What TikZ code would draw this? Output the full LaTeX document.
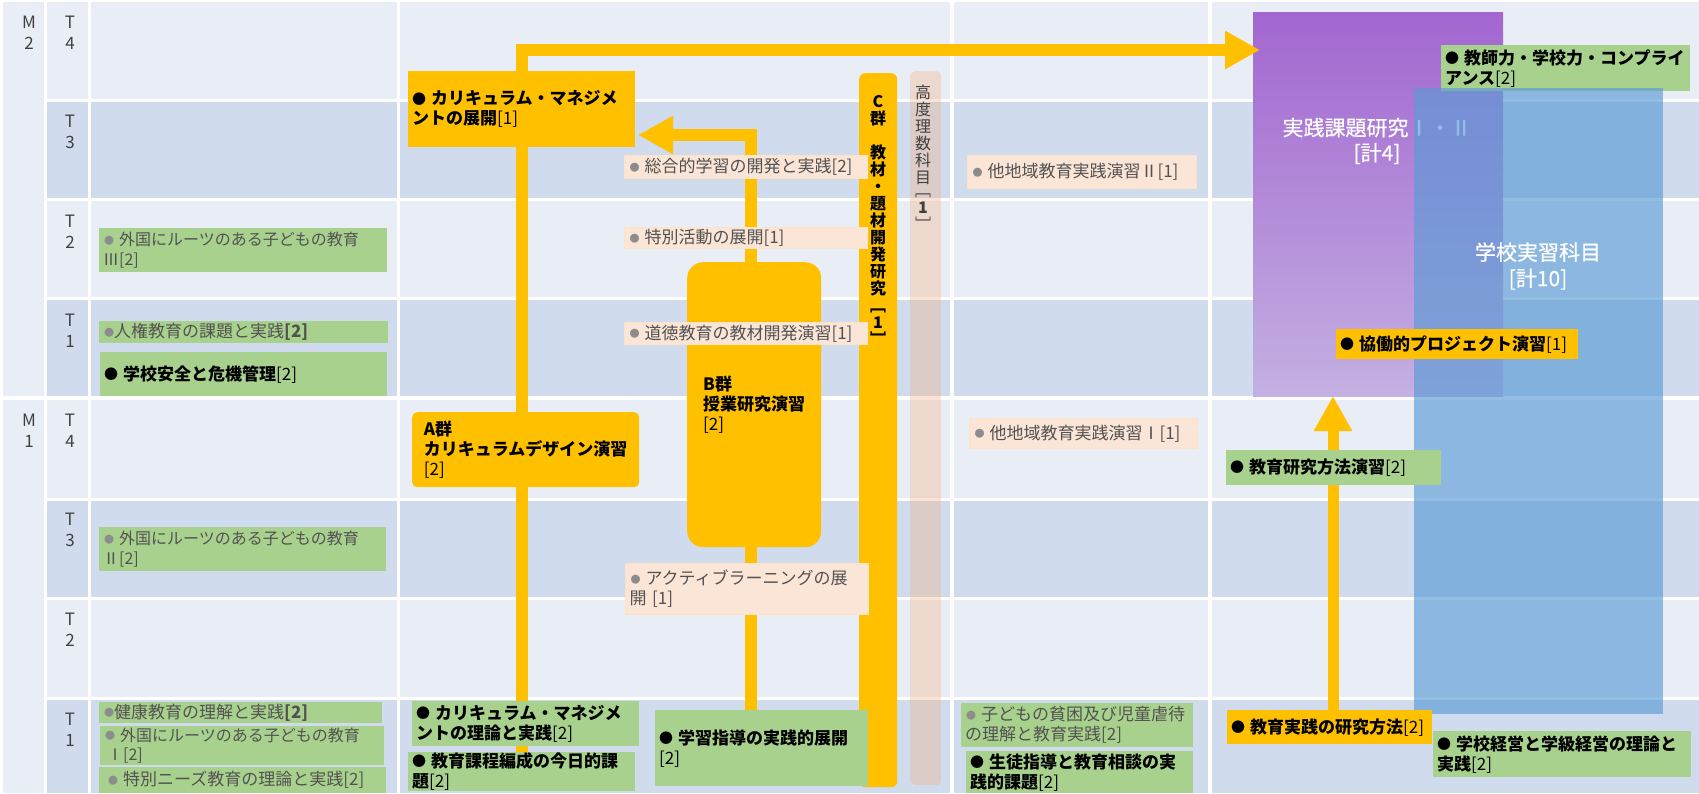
\documentclass[tikz,border=0pt]{standalone}
\usepackage{fontspec}
\setmainfont{Noto Sans CJK JP}
\newfontfamily\titlefont{Noto Sans CJK JP}[FakeBold=0.6]
\usetikzlibrary{arrows.meta}
\definecolor{cellL}{RGB}{233,237,245}
\definecolor{cellD}{RGB}{208,220,238}
\definecolor{yel}{HTML}{FFC000}
\definecolor{grn}{HTML}{A9D18E}
\definecolor{pch}{HTML}{FBE5D6}
\definecolor{pchline}{HTML}{FDE3C6}
\definecolor{txtgray}{HTML}{525252}
\definecolor{bulgray}{HTML}{8C8C8C}
\definecolor{lblgray}{HTML}{404040}
\definecolor{purTop}{HTML}{A266D0}
\definecolor{purBot}{HTML}{C4B0E2}
\definecolor{blu}{HTML}{5B9BD5}
\definecolor{peachbar}{HTML}{F4B183}
\newcommand\bulG{\hspace{1pt}\raisebox{1.6pt}{\fontsize{10}{10}\selectfont\color{bulgray}●}\hspace{5pt}}
\newcommand\bulK{\raisebox{0.8pt}{\fontsize{14}{14}\selectfont ●}\hspace{5pt}}
\pgfdeclarelayer{gridlayer}
\pgfdeclarelayer{backlayer}
\pgfdeclarelayer{arrowlayer}
\pgfsetlayers{gridlayer,backlayer,arrowlayer,main}
\tikzset{
  bx/.style={anchor=north west, inner xsep=4pt, inner ysep=0pt, align=left, font=\fontsize{17}{20}\selectfont},
  gbox/.style={bx, fill=grn},
  ybox/.style={bx, fill=yel},
  pbox/.style={bx, fill=pch, draw=pchline, line width=1pt, text=txtgray},
  graytxt/.style={text=txtgray},
  boldtxt/.style={font=\bfseries\fontsize{17}{20}\selectfont},
  lbl/.style={text=lblgray, align=center, font=\fontsize{17}{21}\selectfont, inner sep=0pt},
  yline/.style={draw=yel, line width=12pt},
  yarrow/.style={yline, -{Triangle[width=36pt,length=35pt]}},
  vtxt/.style={align=center, inner sep=0pt},
  title/.style={text=white, align=center, inner sep=0pt},
}
\begin{document}
\begin{tikzpicture}[x=1pt,y=-1pt]
\useasboundingbox (0,0) rectangle (1699,793);
% ---------- grid ----------
\begin{pgfonlayer}{gridlayer}
\fill[white] (0,0) rectangle (1699,793);
\fill[cellL] (3,2) rectangle (44,396);
\fill[cellL] (3,400) rectangle (44,793);
\foreach \t/\b/\c in {2/99/cellL,102/198/cellD,201/297/cellL,300/396/cellD,400/498/cellL,501/597/cellD,600/697/cellL,700/793/cellD}{
  \foreach \l/\r in {47/88,91/397,400/950,954/1208,1212/1699}{
    \fill[fill=\c] (\l,\t) rectangle (\r,\b);
  }
}
\end{pgfonlayer}
% ---------- labels ----------
\node[lbl] (m2) at (29,32.5) {M\\2};
\node[lbl] (m1) at (29,431) {M\\1};
\node[lbl] (t24) at (70,32.5) {T\\4};
\node[lbl] (t23) at (70,132) {T\\3};
\node[lbl] (t22) at (70,231.5) {T\\2};
\node[lbl] (t21) at (70,331) {T\\1};
\node[lbl] (t14) at (70,431) {T\\4};
\node[lbl] (t13) at (70,530) {T\\3};
\node[lbl] (t12) at (70,629.5) {T\\2};
\node[lbl] (t11) at (70,729.5) {T\\1};
% ---------- back layer: big areas ----------
\begin{pgfonlayer}{backlayer}
\node[anchor=north west, minimum width=250pt, minimum height=384pt, inner sep=0pt, top color=purTop, bottom color=purBot] (kadai) at (1253,12) {};
\node[title, font=\titlefont\fontsize{21}{25}\selectfont] (kadait) at (1377,141) {実践課題研究Ⅰ・Ⅱ\\{}[計4]};
\node[gbox, boldtxt, minimum width=249pt, minimum height=46pt, text width=241pt] (kyoshi) at (1441,45) {\bulK 教師力・学校力・コンプライ\\アンス{\mdseries[2]}};
\node[anchor=north west, fill=blu, fill opacity=0.65, minimum width=249pt, minimum height=626pt, inner sep=0pt] (jisshu) at (1414,88) {};
\node[title, font=\titlefont\fontsize{21}{26}\selectfont] (jisshut) at (1538,266) {学校実習科目\\{}[計10]};
\node[anchor=north west, fill=yel, rounded corners=6pt, minimum width=38pt, minimum height=714pt, inner sep=0pt] (cgun) at (859,73) {};
\node[vtxt, font=\bfseries\fontsize{16}{17}\selectfont] (cgunt) at (878,220) {C\\群\\\mbox{}\\教\\材\\・\\題\\材\\開\\発\\研\\究\\﹇\\1\\﹈};
\node[anchor=north west, fill=peachbar, fill opacity=0.35, rounded corners=5pt, minimum width=31pt, minimum height=714pt, inner sep=0pt] (kodo) at (910,71) {};
\node[vtxt, text=lblgray, font=\fontsize{16}{17}\selectfont] (kodot) at (923,158) {高\\度\\理\\数\\科\\目\\[-4pt]﹇\\\textbf{1}\\﹈};
\end{pgfonlayer}
% ---------- column A ----------
\node[gbox, graytxt, font=\fontsize{16}{19.5}\selectfont, minimum width=288pt, minimum height=44pt, text width=280pt] (gai3) at (99,228) {\bulG 外国にルーツのある子どもの教育\\Ⅲ[2]};
\node[gbox, graytxt, minimum width=289pt, minimum height=22pt, text width=281pt] (jinken) at (99,321) {\bulG\hspace{-5pt}人権教育の課題と実践\textbf{[2]}};
\node[gbox, boldtxt, minimum width=287pt, minimum height=44pt, text width=279pt] (anzen) at (100,352) {\bulK 学校安全と危機管理{\mdseries[2]}};
\node[gbox, graytxt, font=\fontsize{16}{19.5}\selectfont, minimum width=287pt, minimum height=44pt, text width=279pt] (gai2) at (99,527) {\bulG 外国にルーツのある子どもの教育\\Ⅱ[2]};
\node[gbox, graytxt, minimum width=283pt, minimum height=21pt, text width=275pt] (kenko) at (99,702) {\bulG\hspace{-5pt}健康教育の理解と実践\textbf{[2]}};
\node[gbox, graytxt, font=\fontsize{16}{19}\selectfont, minimum width=284pt, minimum height=39pt, text width=276pt] (gai1) at (100,726) {\bulG 外国にルーツのある子どもの教育\\\hspace{3pt}Ⅰ[2]};
\node[gbox, graytxt, minimum width=287pt, minimum height=26pt, text width=279pt] (tokubetsu) at (99,767) {\hspace{4pt}\bulG 特別ニーズ教育の理論と実践[2]};
% ---------- column B ----------
\node[ybox, boldtxt, minimum width=227pt, minimum height=76pt, text width=219pt] (kmten) at (408,71) {\bulK カリキュラム・マネジメ\\ントの展開{\mdseries[1]}};
\node[anchor=north west, fill=yel, rounded corners=5pt, minimum width=227pt, minimum height=75pt, align=left, boldtxt, inner sep=0pt] (agun) at (412,412) {A群\\カリキュラムデザイン演習\\{\mdseries[2]}};
\node[anchor=north west, fill=yel, rounded corners=16pt, minimum width=134pt, minimum height=285pt, align=left, boldtxt, inner sep=0pt] (bgun) at (687,262) {B群\\授業研究演習\\{\mdseries[2]}};
\node[pbox, minimum width=243pt, minimum height=23pt, text width=235pt] (sogo) at (624,155) {\bulG 総合的学習の開発と実践[2]};
\node[pbox, minimum width=243pt, minimum height=21pt, text width=235pt] (tokkatsu) at (624,227) {\bulG 特別活動の展開[1]};
\node[pbox, minimum width=243pt, minimum height=22pt, text width=235pt] (dotoku) at (624,322) {\bulG 道徳教育の教材開発演習[1]};
\node[pbox, minimum width=243pt, minimum height=51pt, text width=235pt] (active) at (625,563) {\bulG アクティブラーニングの展\\開 [1]};
\node[gbox, boldtxt, minimum width=227pt, minimum height=45pt, text width=219pt] (kmriron) at (412,701) {\bulK カリキュラム・マネジメ\\ントの理論と実践{\mdseries[2]}};
\node[gbox, boldtxt, minimum width=227pt, minimum height=39pt, text width=219pt] (kyoikukatei) at (408,752) {\bulK 教育課程編成の今日的課\\題{\mdseries[2]}};
\node[gbox, boldtxt, minimum width=213pt, minimum height=76pt, text width=205pt] (gakushu) at (655,710) {\bulK 学習指導の実践的展開\\{\mdseries[2]}};
% ---------- column C ----------
\node[pbox, minimum width=229pt, minimum height=33pt, text width=221pt] (tachiki2) at (967,155) {\bulG 他地域教育実践演習Ⅱ[1]};
\node[pbox, minimum width=228pt, minimum height=30pt, text width=220pt] (tachiki1) at (969,418) {\bulG 他地域教育実践演習Ⅰ[1]};
\node[gbox, graytxt, minimum width=232pt, minimum height=44pt, text width=224pt] (hinkon) at (961,703) {\bulG 子どもの貧困及び児童虐待\\の理解と教育実践[2]};
\node[gbox, boldtxt, minimum width=227pt, minimum height=42pt, text width=219pt] (seito) at (966,751) {\bulK 生徒指導と教育相談の実\\践的課題{\mdseries[2]}};
% ---------- column D ----------
\node[ybox, boldtxt, minimum width=242pt, minimum height=30pt, text width=234pt] (kyodo) at (1336,329) {\bulK 協働的プロジェクト演習{\mdseries[1]}};
\node[gbox, boldtxt, minimum width=215pt, minimum height=35pt, text width=207pt] (kenkyuen) at (1226,450) {\bulK 教育研究方法演習{\mdseries[2]}};
\node[ybox, boldtxt, minimum width=205pt, minimum height=34pt, text width=197pt] (jpken) at (1227,710) {\bulK 教育実践の研究方法{\mdseries[2]}};
\node[gbox, boldtxt, minimum width=258pt, minimum height=46pt, text width=250pt] (keiei) at (1433,731) {\bulK 学校経営と学級経営の理論と\\実践{\mdseries[2]}};
% ---------- arrows ----------
\coordinate (acorner) at (522,50);
\coordinate (atip) at (1260,50);
\coordinate (bcorner) at (751,135);
\coordinate (btip) at (638,135);
\coordinate (uptip) at (1333,396);
\begin{pgfonlayer}{arrowlayer}
\draw[yarrow] (kyoikukatei.north -| acorner) -- (acorner) -- (atip);
\draw[yarrow] (bgun.north -| bcorner) -- (bcorner) -- (btip);
\draw[yline] (bgun.south -| bcorner) -- (gakushu.north -| bcorner);
\draw[yarrow, line width=11pt] (jpken.north -| uptip) -- (uptip);
\end{pgfonlayer}
\end{tikzpicture}
\end{document}
